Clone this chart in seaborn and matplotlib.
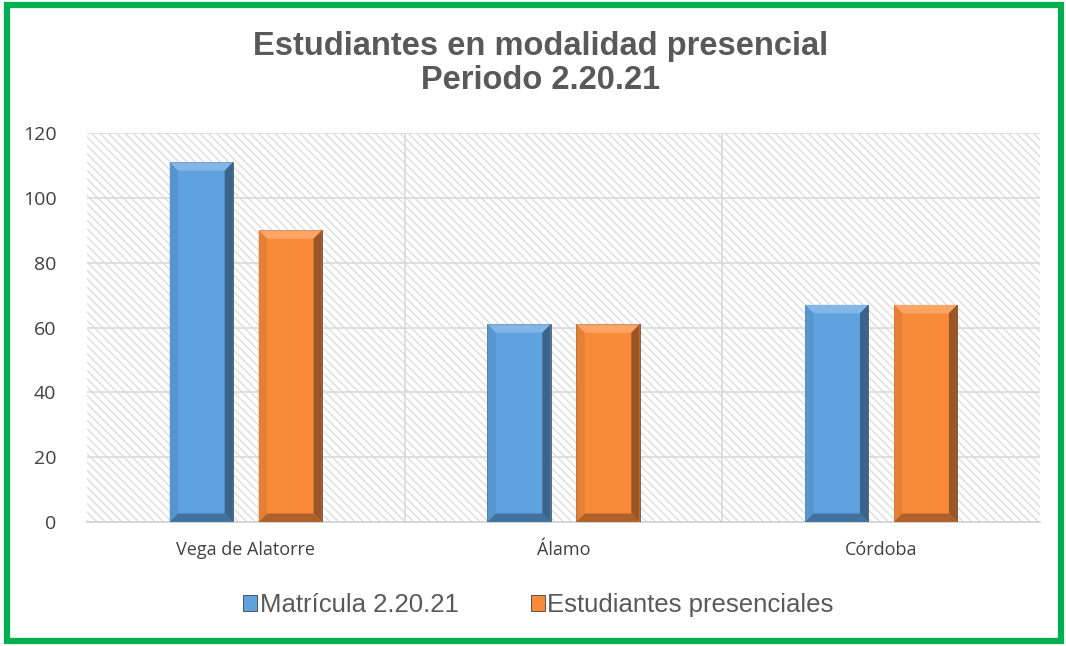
import matplotlib
matplotlib.use("Agg")
import matplotlib.pyplot as plt
import matplotlib.patches as mpatches
from matplotlib.colors import to_rgb
import pandas as pd
import seaborn as sns

# data
categories = ["Vega de Alatorre", "Álamo", "Córdoba"]
series_names = ["Matrícula 2.20.21", "Estudiantes presenciales"]
matricula = [111, 61, 67]
presenciales = [90, 61, 67]
yticks = [0, 20, 40, 60, 80, 100, 120]

colors = ["#5FA2E0", "#F98A3A"]

df = pd.DataFrame({
    "sede": categories * 2,
    "serie": [series_names[0]] * 3 + [series_names[1]] * 3,
    "valor": matricula + presenciales,
})

sns.set_style("white")
plt.rcParams["font.family"] = ["Liberation Sans", "DejaVu Sans"]

fig = plt.figure(figsize=(10.66, 6.46), dpi=100)
ax = fig.add_axes([0.0816, 0.192, 0.894, 0.602])

# hatched background
bg = mpatches.Rectangle((0, 0), 1, 1, transform=ax.transAxes, facecolor="white",
                        hatch="\\\\\\\\", edgecolor="#DCDCDC", linewidth=0, zorder=0)
ax.add_patch(bg)

sns.barplot(data=df, x="sede", y="valor", hue="serie", palette=colors,
            saturation=1, width=0.56, gap=0.29, ax=ax, legend=False, zorder=3,
            edgecolor="#404040", linewidth=0.5)

def shade(c, f):
    r, g, b = to_rgb(c)
    if f > 0:
        return (r + (1 - r) * f, g + (1 - g) * f, b + (1 - b) * f)
    return (r * (1 + f), g * (1 + f), b * (1 + f))

# bevel effect on each bar
bx, by = 0.026, 2.6
for p in list(ax.patches):
    if p is bg:
        continue
    fc = p.get_facecolor()
    x0, y0 = p.get_x(), p.get_y()
    w, h = p.get_width(), p.get_height()
    if h <= 0:
        continue
    x1, y1 = x0 + w, y0 + h
    top = [(x0, y1), (x1, y1), (x1 - bx, y1 - by), (x0 + bx, y1 - by)]
    right = [(x1, y1), (x1, y0), (x1 - bx, y0 + by), (x1 - bx, y1 - by)]
    left = [(x0, y1), (x0, y0), (x0 + bx, y0 + by), (x0 + bx, y1 - by)]
    bottom = [(x0, y0), (x1, y0), (x1 - bx, y0 + by), (x0 + bx, y0 + by)]
    for pts, f in [(top, 0.22), (right, -0.38), (left, -0.08), (bottom, -0.3)]:
        ax.add_patch(mpatches.Polygon(pts, closed=True, facecolor=shade(fc, f),
                                      edgecolor="none", zorder=4))

ax.set_ylim(0, 120)
ax.set_xlim(-0.5, 2.5)
ax.set_yticks(yticks)
ax.set_yticklabels([str(v) for v in yticks], fontsize=14, color="#404040",
                   family=["Open Sans", "DejaVu Sans"])
ax.set_xticks(range(len(categories)))
ax.set_xticklabels(categories, fontsize=13, color="#404040",
                   family=["Open Sans", "DejaVu Sans"])
ax.tick_params(axis="y", length=0, pad=22)
ax.tick_params(axis="x", length=0, pad=14)
ax.set_xlabel("")
ax.set_ylabel("")

for v in yticks[1:]:
    ax.axhline(v, color="#D9D9D9", linewidth=1.2, zorder=1)
for xv in [0.5, 1.5]:
    ax.axvline(xv, color="#D9D9D9", linewidth=1.2, zorder=1)

for s in ["top", "right", "left"]:
    ax.spines[s].set_visible(False)
ax.spines["bottom"].set_color("#D0D0D0")
ax.spines["bottom"].set_linewidth(1.2)

fig.text(0.507, 0.902, "Estudiantes en modalidad presencial\nPeriodo 2.20.21",
         ha="center", va="center", fontsize=23.5, fontweight="bold",
         color="#595959", linespacing=1.15)

handles = [mpatches.Patch(facecolor=c, edgecolor="#404040", linewidth=0.6) for c in colors]
fig.legend(handles, series_names, loc="center", bbox_to_anchor=(0.505, 0.063),
           ncol=2, frameon=False, fontsize=18.5, labelcolor="#595959",
           handlelength=0.55, handleheight=0.55, handletextpad=0.1, columnspacing=2.8)

# green frame
frame = mpatches.Rectangle((0.0065, 0.008), 0.989, 0.984, transform=fig.transFigure,
                           fill=False, edgecolor="#00B050", linewidth=4.5)
fig.add_artist(frame)

fig.savefig("out.png", dpi=100)
